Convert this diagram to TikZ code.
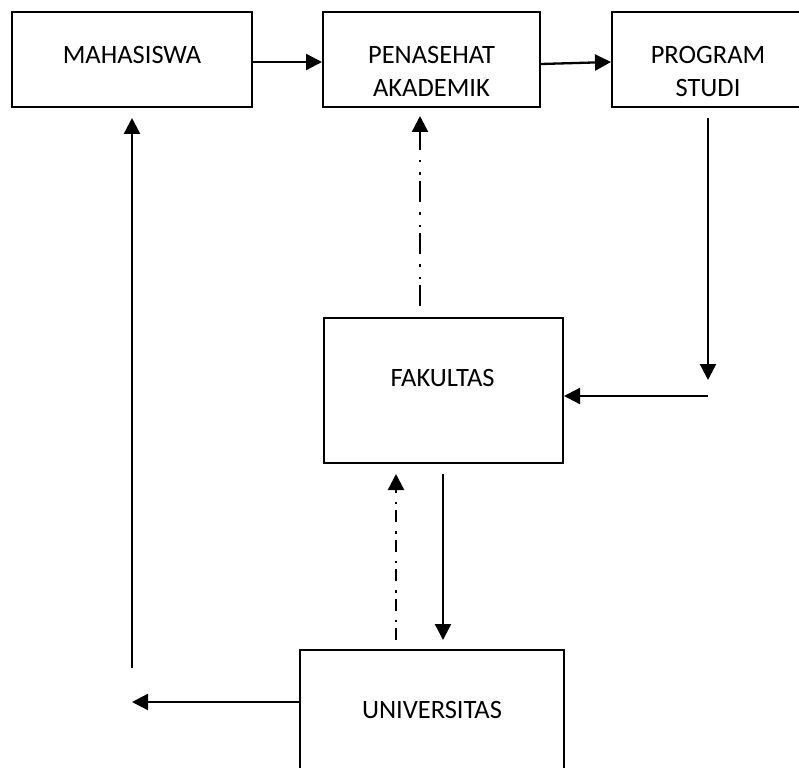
\documentclass[tikz,border=0pt]{standalone}
\usepackage{fontspec}
\setmainfont{Carlito}
\usetikzlibrary{arrows.meta,calc}
\begin{document}
\begin{tikzpicture}[x=1pt,y=-1pt,
  box/.style={draw, line width=2pt, inner sep=0pt},
  lbl/.style={font=\fontsize{26.5}{33}\selectfont, inner sep=0pt, align=center, anchor=base},
  flow/.style={line width=2.3pt, -{Triangle[length=16pt,width=16pt]}},
  dashdotdot/.style={flow, dash pattern=on 21pt off 6pt on 2.5pt off 10pt on 2.5pt off 10pt},
  dashdot/.style={flow, dash pattern=on 12pt off 6pt on 2.5pt off 9pt}]
\clip (0,0) rectangle (799,767);

% boxes
\node[box, minimum width=240pt, minimum height=95pt] (mhs) at (132,59.5) {};
\node[box, minimum width=217pt, minimum height=95pt] (pa) at (431.5,59.5) {};
\node[box, minimum width=193pt, minimum height=95pt] (ps) at (708.5,59.5) {};
\node[box, minimum width=239pt, minimum height=145pt] (fak) at (443.5,390.5) {};
\node[box, minimum width=264pt, minimum height=125pt] (univ) at (432,712.5) {};

% labels (two-line labels sit on the baseline of their last line)
\node[lbl] (tmhs) at (132,64) {MAHASISWA};
\node[lbl] (tpa) at (431.5,97) {PENASEHAT\\AKADEMIK};
\node[lbl] (tps) at (708,97) {PROGRAM\\STUDI};
\node[lbl] (tfak) at (442.5,386) {FAKULTAS};
\node[lbl] (tuniv) at (432,718) {UNIVERSITAS};

% free ends of the connectors
\coordinate (psdown) at (708,380);
\coordinate (fakin) at (708,396);
\coordinate (fakup) at (420,306);
\coordinate (univup) at (396,640);
\coordinate (univdown) at (443,640);
\coordinate (mhsret) at (132,702);
\coordinate (mhsup) at (132,668);

% connectors
\draw[flow] ($(mhs.east)+(0,2.5)$) -- ($(pa.west)+(0,2.5)$);
\draw[flow] ($(pa.east)+(0,4.5)$) -- ($(ps.west)+(0,2.5)$);
\draw[flow] ($(ps.south -| psdown)+(0,10)$) -- (psdown);
\draw[flow] (fakin) -- (fakin -| fak.east);
\draw[dashdotdot] (fakup) -- ($(fakup |- pa.south)+(0,8)$);
\draw[dashdot] (univup) -- ($(univup |- fak.south)+(0,10)$);
\draw[flow] ($(univdown |- fak.south)+(0,10)$) -- (univdown);
\draw[flow] (univ.west |- mhsret) -- (mhsret);
\draw[flow] (mhsup) -- ($(mhsup |- mhs.south)+(0,10)$);
\end{tikzpicture}
\end{document}
